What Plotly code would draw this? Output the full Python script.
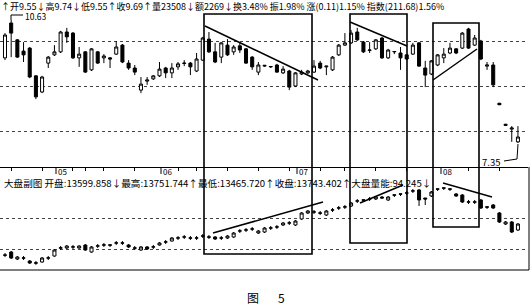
import plotly.graph_objects as go

# ---------------- data ----------------
days = list(range(84))

# stock price (upper panel)
p_open = [9.62, 10.55, 10.10, 9.80, 9.88, 9.14, 8.71, 9.48, 9.70, 9.78,
          10.31, 10.28, 9.62, 9.78, 9.30, 9.78, 9.62, 9.62, 9.72, 9.96,
          9.48, 9.35, 8.76, 9.00, 9.06, 9.14, 9.35, 9.22, 9.38, 9.47,
          9.48, 9.27, 9.56, 10.12, 9.78, 9.64, 9.96, 9.78, 9.94, 9.86,
          9.64, 9.24, 9.40, 9.38, 9.43, 9.22, 9.27, 8.87, 9.19, 9.22,
          9.24, 9.48, 9.38, 9.30, 9.70, 9.96, 10.02, 10.31, 10.04, 9.82,
          9.86, 10.15, 9.62, 9.78, 9.75, 9.70, 9.72, 10.02, 9.35, 9.19,
          9.43, 9.62, 9.75, 9.86, 9.88, 10.39, 9.96, 10.07, 9.40, 9.43,
          8.41, 7.85, 7.72, 7.38]
p_high = [10.28, 10.63, 10.12, 10.04, 9.91, 9.16, 9.14, 9.67, 9.96, 10.34,
          10.42, 10.31, 9.91, 9.80, 9.88, 9.80, 9.72, 9.64, 10.07, 9.99,
          9.56, 9.43, 9.11, 9.11, 9.16, 9.51, 9.38, 9.48, 9.51, 9.56,
          9.51, 9.75, 10.18, 10.31, 10.02, 10.04, 10.12, 9.96, 10.02, 9.88,
          9.67, 9.51, 9.43, 9.40, 9.46, 9.40, 9.30, 9.24, 9.30, 9.30,
          9.56, 9.54, 9.40, 9.67, 9.99, 10.28, 10.36, 10.42, 10.07, 10.04,
          10.12, 10.18, 9.86, 9.80, 9.91, 9.72, 10.02, 10.04, 9.54, 9.56,
          9.72, 9.88, 10.02, 9.88, 10.31, 10.42, 10.23, 10.10, 9.51, 9.51,
          8.42, 7.86, 7.80, 7.80]
p_low = [9.56, 9.64, 9.62, 9.51, 9.08, 8.52, 8.68, 9.35, 9.67, 9.75,
         10.02, 9.59, 9.38, 9.22, 9.27, 9.46, 9.48, 9.35, 9.70, 9.48,
         9.30, 9.16, 8.68, 8.90, 9.03, 9.11, 9.08, 9.08, 9.30, 9.40,
         9.16, 9.24, 9.54, 9.75, 9.48, 9.48, 9.67, 9.70, 9.75, 9.46,
         9.30, 9.16, 9.38, 9.35, 9.22, 9.19, 8.76, 8.84, 9.16, 9.19,
         9.22, 9.32, 9.16, 9.27, 9.67, 9.94, 9.99, 10.07, 9.75, 9.75,
         9.83, 9.59, 9.59, 9.72, 9.30, 9.56, 9.70, 9.38, 8.84, 9.16,
         9.40, 9.48, 9.72, 9.72, 9.86, 9.86, 9.94, 9.56, 9.30, 8.84,
         8.37, 7.82, 7.38, 7.35]
p_close = [10.23, 10.28, 9.64, 9.70, 9.11, 8.58, 9.11, 9.64, 9.78, 10.31,
           10.18, 9.62, 9.72, 9.24, 9.86, 9.48, 9.67, 9.59, 9.91, 9.51,
           9.35, 9.24, 8.92, 9.03, 9.14, 9.32, 9.22, 9.35, 9.46, 9.48,
           9.38, 9.59, 10.15, 9.78, 9.51, 10.02, 9.70, 9.91, 9.83, 9.48,
           9.38, 9.43, 9.42, 9.39, 9.24, 9.32, 8.84, 9.22, 9.24, 9.27,
           9.40, 9.35, 9.40, 9.64, 9.96, 10.02, 10.28, 10.10, 9.78, 9.83,
           10.10, 9.62, 9.83, 9.79, 9.62, 9.59, 9.96, 9.40, 9.16, 9.54,
           9.70, 9.72, 9.88, 9.75, 10.28, 9.88, 10.15, 9.59, 9.43, 8.90,
           8.37, 7.82, 7.75, 7.51]

# market index (lower panel)
i_open = [12810, 12903, 12677, 12715, 12613, 12555, 12581, 12705, 12774, 13025,
          13032, 13060, 13032, 13129, 12903, 13092, 13124, 13134, 13190, 13198,
          13129, 13037, 12968, 13065, 13060, 13129, 13222, 13258, 13350, 13382,
          13360, 13350, 13414, 13392, 13387, 13350, 13355, 13387, 13576, 13608,
          13640, 13516, 13548, 13672, 13705, 13774, 13834, 13774, 13968, 14161,
          14190, 14166, 14097, 14254, 14318, 14350, 14387, 14543, 14586, 14608,
          14613, 14677, 14581, 14747, 14779, 14801, 14866, 14903, 14645, 14710,
          14940, 14973, 14940, 14774, 14742, 14511, 14521, 14581, 14360, 14419,
          14161, 13806, 13871, 13613]
i_high = [12870, 12935, 12774, 12774, 12645, 12613, 12742, 12774, 13000, 13097,
          13129, 13129, 13120, 13161, 13097, 13161, 13194, 13140, 13258, 13258,
          13161, 13097, 13097, 13097, 13129, 13226, 13290, 13387, 13419, 13452,
          13419, 13419, 13484, 13452, 13419, 13419, 13452, 13548, 13645, 13677,
          13710, 13613, 13710, 13742, 13774, 13871, 13903, 13935, 14194, 14258,
          14258, 14226, 14258, 14323, 14387, 14419, 14516, 14613, 14590, 14677,
          14710, 14710, 14710, 14750, 14782, 14871, 14935, 14935, 14650, 14871,
          14945, 14978, 14945, 14806, 14774, 14581, 14581, 14613, 14365, 14452,
          14194, 13903, 13903, 13839]
i_low = [12740, 12677, 12645, 12645, 12516, 12490, 12560, 12645, 12750, 12968,
         13000, 13000, 13010, 12940, 12880, 13032, 13065, 13065, 13129, 13129,
         13032, 12968, 12940, 12968, 13000, 13110, 13161, 13240, 13290, 13323,
         13290, 13290, 13355, 13323, 13290, 13290, 13323, 13355, 13516, 13548,
         13581, 13484, 13516, 13613, 13645, 13742, 13774, 13742, 13935, 14129,
         14129, 14097, 14065, 14194, 14258, 14290, 14355, 14484, 14516, 14548,
         14581, 14613, 14548, 14677, 14710, 14742, 14806, 14387, 14419, 14677,
         14871, 14903, 14871, 14677, 14484, 14452, 14452, 14290, 14290, 14290,
         13839, 13774, 13516, 13581]
i_close = [12800, 12710, 12742, 12705, 12548, 12545, 12710, 12715, 12968, 13040,
           13097, 13070, 13097, 12968, 13065, 13102, 13134, 13124, 13198, 13190,
           13065, 13027, 13065, 13000, 13070, 13194, 13230, 13355, 13360, 13392,
           13350, 13360, 13424, 13382, 13323, 13360, 13419, 13516, 13586, 13618,
           13650, 13581, 13677, 13682, 13715, 13839, 13844, 13903, 14161, 14226,
           14198, 14156, 14226, 14262, 14328, 14360, 14484, 14553, 14576, 14618,
           14677, 14645, 14677, 14737, 14769, 14811, 14876, 14581, 14613, 14839,
           14930, 14963, 14930, 14710, 14516, 14521, 14511, 14323, 14350, 14323,
           13871, 13871, 13548, 13806]

month_labels = ["05", "06", "07", "08"]
header_text = ("↑开9.55↓高9.74↓低9.55↑收9.69↑量23508↓额2269↓换3.48% "
               "振1.98% 涨(0.11)1.15% 指数(211.68)1.56%")
sub_text = ("大盘副图 开盘:13599.858↓最高:13751.744↑最低:13465.720↑"
            "收盘:13743.402↑大盘量能:94.245↓")
hi_label = "10.63"
lo_label = "7.35"
caption = "图"
caption_num = "5"

# ---------------- layout helpers (pixel -> paper) ----------------
W, H = 532, 306
ML, MR, MT, MB = 0, 4, 12, 36
PW = W - ML - MR
PH = H - MT - MB


def px(x):
    return (x - ML) / PW


def py(y):
    return (H - MB - y) / PH


SEP = 167  # separator between panels (pixel row)
split = py(SEP)

inc = dict(line=dict(color="black", width=1), fillcolor="white")
dec = dict(line=dict(color="black", width=1), fillcolor="black")

fig = go.Figure()
fig.add_trace(go.Candlestick(x=days, open=p_open, high=p_high, low=p_low, close=p_close,
                             increasing=inc, decreasing=dec, whiskerwidth=0,
                             xaxis="x", yaxis="y", showlegend=False, hoverinfo="skip"))
fig.add_trace(go.Candlestick(x=days, open=i_open, high=i_high, low=i_low, close=i_close,
                             increasing=inc, decreasing=dec, whiskerwidth=0,
                             xaxis="x2", yaxis="y2", showlegend=False, hoverinfo="skip"))

xr = [-5 / 6.18, (PW - 5) / 6.18]
minor_ticks = [1, 6, 11, 13, 16, 21, 28, 31, 36, 41, 46, 51, 55, 60, 65, 75, 80]

fig.update_layout(
    width=W, height=H,
    margin=dict(l=ML, r=MR, t=MT, b=MB),
    paper_bgcolor="white", plot_bgcolor="white",
    font=dict(family="Noto Sans CJK SC, DejaVu Sans", color="black", size=10),
    xaxis=dict(domain=[0, 1], anchor="y", range=xr, rangeslider=dict(visible=False),
               showgrid=False, zeroline=False, showticklabels=False,
               tickvals=minor_ticks, ticks="outside", ticklen=3, tickcolor="black",
               showline=True, linecolor="black", linewidth=1),
    yaxis=dict(domain=[split, 1], range=[6.71, 10.8433], autorange=False,
               showticklabels=False, zeroline=False,
               tickvals=[10.07, 8.87, 7.67], showgrid=True, gridcolor="#444",
               griddash="dot", gridwidth=1),
    xaxis2=dict(domain=[0, 1], anchor="y2", range=xr, rangeslider=dict(visible=False),
                showgrid=False, zeroline=False, showticklabels=False, showline=False),
    yaxis2=dict(domain=[0, split], range=[12323, 15645], autorange=False,
                showticklabels=False, zeroline=False,
                tickvals=[13000, 14000], showgrid=True, gridcolor="#444",
                griddash="dot", gridwidth=1),
)

shapes = []


def seg(x0, y0, x1, y1, w=1.5):
    shapes.append(dict(type="line", xref="paper", yref="paper",
                       x0=px(x0), y0=py(y0), x1=px(x1), y1=py(y1),
                       line=dict(color="black", width=w)))


def box(x0, y0, x1, y1, w=1.6):
    shapes.append(dict(type="rect", xref="paper", yref="paper",
                       x0=px(x0), y0=py(y1), x1=px(x1), y1=py(y0),
                       line=dict(color="black", width=w), fillcolor="rgba(0,0,0,0)"))


# frame lines
seg(0, 270, 529, 270, 1)
seg(529, SEP, 529, 270, 1)
# month ticks on separator
for mx in (56, 161, 297, 441):
    seg(mx, SEP, mx, 174, 1)

# boxes
box(204, 14, 312, 254)
box(350, 14, 407, 243)
box(433, 23, 479, 227)
# trend lines upper panel
seg(205, 26, 318, 80)
seg(350, 22, 407, 46)
seg(433, 80, 477, 49)
# trend lines lower panel
seg(213, 233, 323, 202)
seg(360, 203, 403, 185)
seg(443, 183, 492, 197)
# max / min leaders
seg(11, 15, 11, 20, 1)
seg(11, 15, 23, 15, 1)
seg(504, 161, 517, 159, 1)
seg(517, 159, 518, 144, 1)

fig.update_layout(shapes=shapes)

ann = []


def text(x, y, s, size=10, anchor="left"):
    ann.append(dict(xref="paper", yref="paper", x=px(x), y=py(y), text=s,
                    showarrow=False, xanchor=anchor, yanchor="middle",
                    font=dict(size=size, color="black"), borderpad=0))


text(0, 6.5, header_text, 9)
text(3, 183, sub_text, 9.6)
text(24, 16, hi_label, 8.5)
text(481, 162, lo_label, 9.5)
for mx, lab in zip((56, 161, 297, 441), month_labels):
    text(mx + 1, 171, lab, 8)
text(253, 297, caption, 12, "center")
text(281, 297, caption_num, 12, "center")
fig.update_layout(annotations=ann)

fig.write_html("out.html")
